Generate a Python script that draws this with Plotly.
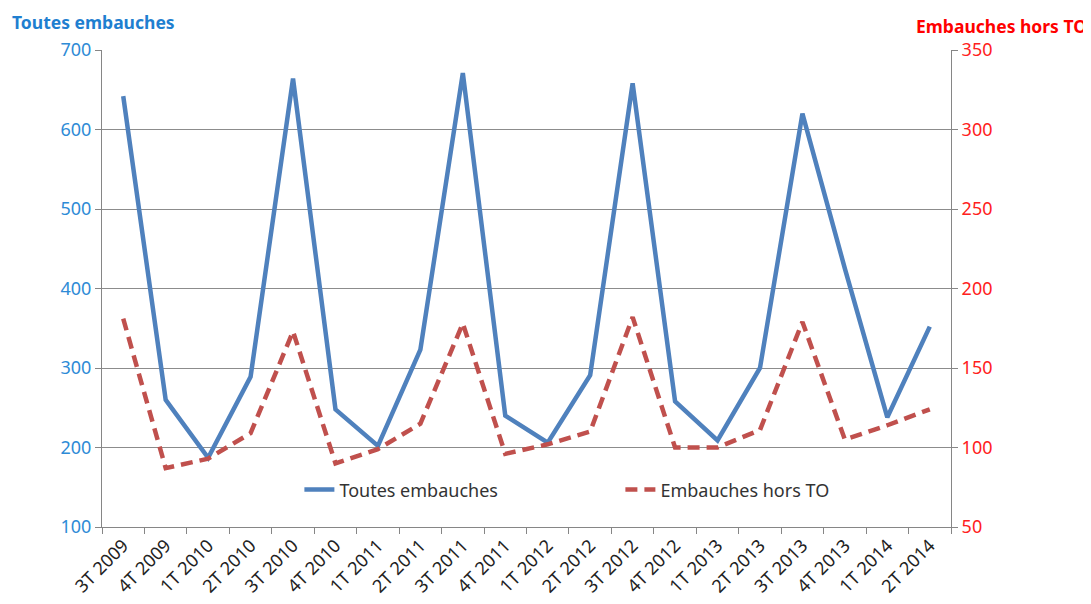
import plotly.graph_objects as go

categories = ["3T 2009", "4T 2009", "1T 2010", "2T 2010", "3T 2010", "4T 2010",
              "1T 2011", "2T 2011", "3T 2011", "4T 2011", "1T 2012", "2T 2012",
              "3T 2012", "4T 2012", "1T 2013", "2T 2013", "3T 2013", "4T 2013",
              "1T 2014", "2T 2014"]
toutes = [642, 260, 187, 289, 664, 248, 202, 323, 671, 240, 206, 291,
          658, 258, 209, 300, 620, 425, 238, 352]
hors_to = [181, 87, 93, 109, 173, 90, 99, 115, 178, 96, 102, 110,
           182, 100, 100, 111, 179, 105, 114, 124]

left_ticks = [100, 200, 300, 400, 500, 600, 700]
right_ticks = [50, 100, 150, 200, 250, 300, 350]

FONT = "Noto Sans"
fig = go.Figure()
fig.add_trace(go.Scatter(x=categories, y=toutes, mode="lines", name="Toutes embauches",
                         line=dict(color="#4F81BD", width=4.5), yaxis="y"))
fig.add_trace(go.Scatter(x=categories, y=hors_to, mode="lines", name="Embauches hors TO",
                         line=dict(color="#C0504D", width=4.5, dash="12px,7px"), yaxis="y2"))

fig.update_layout(
    width=1091, height=604,
    margin=dict(l=94, r=148, t=42, b=85),
    paper_bgcolor="white", plot_bgcolor="white",
    font=dict(family=FONT, size=17, color="#222222"),
    showlegend=True,
    legend=dict(orientation="h", x=0.2325, y=0.078, xanchor="left", yanchor="middle",
                entrywidth=276, entrywidthmode="pixels",
                font=dict(family=FONT, size=18, color="#333333"),
                bgcolor="rgba(255,255,255,0)"),
    xaxis=dict(type="category", tickangle=-45, showgrid=False, automargin=False,
               showline=True, linecolor="#868686", linewidth=1,
               ticks="outside", ticklen=6, tickcolor="#868686", tickson="boundaries",
               tickfont=dict(family=FONT, size=18, color="#222222"),
               range=[-0.5, len(categories) - 0.5]),
    yaxis=dict(range=[100, 700], tickvals=left_ticks, showgrid=True, gridcolor="#8C8C8C",
               gridwidth=1, showline=True, linecolor="#868686", ticks="outside", ticklen=6,
               tickcolor="#868686", automargin=False,
               tickfont=dict(family=FONT, size=18, color="#2E8BD6"),
               zeroline=False),
    yaxis2=dict(range=[50, 350], tickvals=right_ticks, overlaying="y", side="right",
                showgrid=False, showline=True, linecolor="#868686", ticks="outside",
                ticklen=6, tickcolor="#868686", automargin=False,
                tickfont=dict(family=FONT, size=18, color="#FF2020"), zeroline=False),
    annotations=[
        dict(text="<b>Toutes embauches</b>", xref="paper", yref="paper",
             x=-0.1084, y=1.059, xanchor="left", yanchor="middle", showarrow=False,
             font=dict(family=FONT, size=17.5, color="#1F7FD0")),
        dict(text="<b>Embauches hors TO</b>", xref="paper", yref="paper",
             x=0.9564, y=1.051, xanchor="left", yanchor="middle", showarrow=False,
             font=dict(family=FONT, size=17.5, color="#FF0000")),
    ],
)

fig.write_html("out.html")
